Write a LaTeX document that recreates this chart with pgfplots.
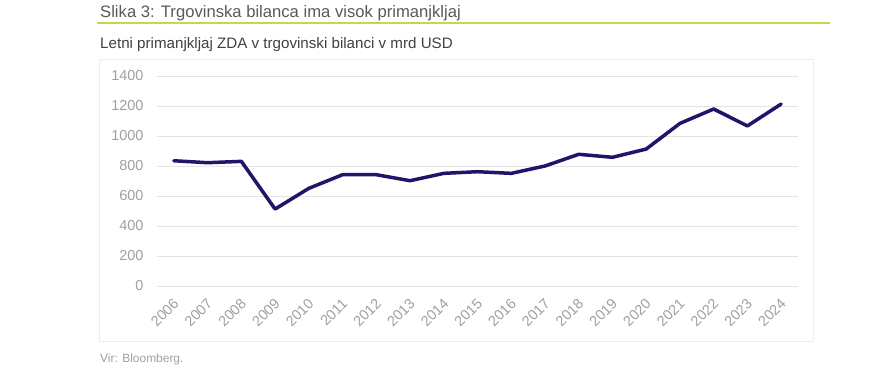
\documentclass[border=0pt]{standalone}
\usepackage{pgfplots}
\pgfplotsset{compat=1.18}
\usepackage{fontspec}
\setmainfont{Liberation Sans}
\definecolor{lineC}{HTML}{24126B}
\definecolor{titleC}{HTML}{595959}
\definecolor{subC}{HTML}{404040}
\definecolor{tickC}{HTML}{A0A0A0}
\definecolor{gridC}{HTML}{E3E3E3}
\definecolor{boxC}{HTML}{EDEDED}
\definecolor{accentC}{HTML}{C8D64E}
\begin{document}
\begin{tikzpicture}
\path[use as bounding box] (0,0) rectangle (872bp,-370bp);
\node[anchor=base west, inner sep=0pt, text=titleC, font=\fontsize{16.7}{18}\selectfont] at (100bp,-17.5bp) {Slika 3: Trgovinska bilanca ima visok primanjkljaj};
\draw[accentC, line width=2bp] (97bp,-23bp) -- (830bp,-23bp);
\node[anchor=base west, inner sep=0pt, text=subC, font=\fontsize{15.2}{17}\selectfont] at (100bp,-48bp) {Letni primanjkljaj ZDA v trgovinski bilanci v mrd USD};
\draw[boxC, line width=0.8bp] (99bp,-59bp) rectangle (813bp,-341bp);
\node[anchor=base west, inner sep=0pt, text=tickC, font=\fontsize{12}{14}\selectfont] at (100bp,-362bp) {Vir: Bloomberg.};
\begin{axis}[
  at={(157bp,-286bp)}, anchor=south west,
  scale only axis, width=641bp, height=210bp,
  xmin=-0.5, xmax=18.5, ymin=0, ymax=1400,
  ytick={0,200,...,1400},
  xtick={0,...,18},
  xticklabels={2006,2007,2008,2009,2010,2011,2012,2013,2014,2015,2016,2017,2018,2019,2020,2021,2022,2023,2024},
  axis line style={draw=none},
  major tick length=0pt,
  ymajorgrids, grid style={gridC, line width=0.8bp},
  /pgf/number format/assume math mode=true,
  /pgf/number format/1000 sep={},
  ticklabel style={text=tickC, font=\fontsize{14.5}{16}\selectfont},
  yticklabel style={xshift=-10bp},
  xticklabel style={rotate=45, anchor=north east, inner sep=1bp, xshift=-8bp, yshift=-6bp},
  clip=false,
]
\addplot[lineC, line width=3.5bp, line join=round, line cap=round] coordinates {
(0,835) (1,822) (2,831) (3,513) (4,651) (5,742) (6,742) (7,702) (8,751) (9,762)
(10,751) (11,800) (12,878) (13,858) (14,913) (15,1084) (16,1180) (17,1067) (18,1213)
};
\end{axis}
\end{tikzpicture}
\end{document}
